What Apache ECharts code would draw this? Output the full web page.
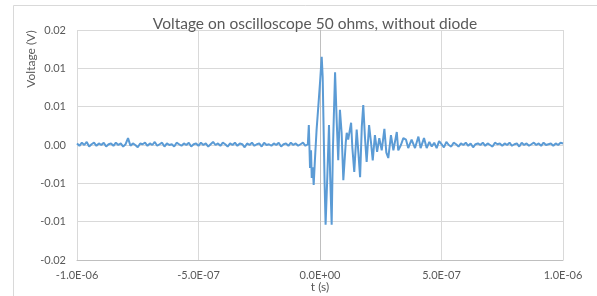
<!DOCTYPE html>
<html>
<head>
<meta charset="utf-8">
<script src="https://cdn.jsdelivr.net/npm/echarts@6/dist/echarts.min.js"></script>
<style>
  html, body { margin: 0; padding: 0; background: #fff; }
  #chart { width: 597px; height: 296px; }
</style>
</head>
<body>
<div id="chart"></div>
<script>
  // time in ns, voltage in mV (axis labels are written like the original sheet)
  const preStartNs = -1000;
  const postStartNs = 460;
  const stepNs = 10;

  // flat noise before the pulse
  const preMv = [
    0.2, -0.1, 0.3, 0.0, 0.4, -0.2, 0.1, 0.3, -0.1, 0.2,
    0.0, 0.3, -0.2, 0.1, 0.2, -0.1, 0.3, 0.0, 0.2, -0.2,
    0.1, 0.9, -0.1, 0.2, 0.0, -0.3, 0.2, 0.1, 0.3, -0.1,
    0.2, 0.0, 0.4, -0.1, 0.1, 0.3, -0.2, 0.2, 0.0, 0.1,
    -0.2, 0.3, 0.1, -0.1, 0.2, 0.0, 0.3, -0.2, 0.1, 0.2,
    -0.1, 0.3, 0.0, 0.2, -0.2, 0.1, 0.4, 0.0, 0.2, -0.1,
    0.3, 0.1, -0.2, 0.2, 0.0, 0.3, -0.1, 0.2, 0.1, -0.3,
    0.2, 0.0, 0.3, -0.1, 0.1, 0.2, -0.2, 0.3, 0.0, 0.1,
    -0.1, 0.2, 0.0, 0.3, -0.2, 0.1, 0.2, -0.1, 0.3, 0.0,
    0.2, -0.1, 0.1, 0.3, -0.1
  ];

  // the ringing burst
  const burstNs = [
    -50, -46, -41, -37, -34, -30, -26, -21, -14, -7,
    0, 7, 11, 14, 19, 23, 30, 37, 42, 48,
    53, 62, 69, 75, 82, 89, 96, 106, 110, 116,
    128, 133, 141, 151, 158, 165, 172, 178, 185, 192,
    202, 210, 217, 226, 235, 244, 254, 265, 273, 281,
    292, 302, 316, 322, 333, 343, 354, 363, 377, 391,
    405, 414, 428, 439, 450
  ];
  const burstMv = [
    0.1, 2.6, -3.0, -0.7, -4.3, -2.9, -5.2, -2.0, 2.0, 5.0,
    8.1, 11.5, 8.9, 3.7, -5.0, -10.4, -4.2, 2.6, -4.2, -10.4,
    -0.7, 9.5, 2.9, -2.0, 4.6, 1.6, -4.6, 0.3, 1.6, 0.7,
    2.9, -0.3, -3.5, 2.0, -1.0, -4.2, 2.4, 5.2, 1.0, -2.2,
    2.6, 0.3, -2.0, 1.3, -0.9, 0.9, -0.7, 2.1, -1.0, -1.7,
    1.3, -0.7, 1.7, -0.7, 0.0, 0.9, 0.7, -0.4, 0.7, -0.4,
    1.1, -0.4, 0.9, -0.4, 0.4
  ];

  // tail noise after the pulse
  const postMv = [
    -0.2, 0.3, -0.4, 0.5, 0.1, -0.3, 0.4, 0.0, -0.2, 0.3,
    0.1, -0.2, 0.2, 0.0, 0.3, -0.1, 0.2, -0.3, 0.1, 0.2,
    0.0, 0.3, -0.1, 0.2, 0.0, -0.2, 0.3, 0.1, 0.2, -0.1,
    0.2, 0.0, 0.3, -0.1, 0.1, 0.2, -0.2, 0.3, 0.0, 0.2,
    -0.1, 0.1, 0.3, 0.0, 0.2, -0.1, 0.3, 0.0, 0.1, 0.2,
    -0.1, 0.2, 0.0, 0.3, 0.2
  ];

  const xTickLabels = ['-1.0E-06', '-5.0E-07', '0.0E+00', '5.0E-07', '1.0E-06'];
  // Excel rounds 0.005 / 0.015 to two decimals, bottom -> top
  const yTickLabels = ['-0.02', '-0.01', '-0.01', '0.00', '0.01', '0.01', '0.02'];

  const points = [];
  preMv.forEach((v, i) => points.push([preStartNs + i * stepNs, v]));
  burstNs.forEach((t, i) => points.push([t, burstMv[i]]));
  postMv.forEach((v, i) => points.push([postStartNs + i * stepNs, v]));

  const chart = echarts.init(document.getElementById('chart'), null, {renderer: 'canvas'});
  const txt = '#595959';
  const gridColor = '#d9d9d9';
  const font = 'Lato, "Open Sans", sans-serif';

  chart.setOption({
    animation: false,
    backgroundColor: '#fff',
    title: {
      text: 'Voltage on oscilloscope 50 ohms, without diode',
      left: 310,
      top: 11,
      textAlign: 'center',
      textStyle: {color: txt, fontSize: 15.5, fontWeight: 'normal', fontFamily: font},
    },
    graphic: [
      {
        type: 'rect',
        shape: {x: 13.5, y: 5.5, width: 620, height: 320},
        style: {fill: 'none', stroke: gridColor, lineWidth: 1},
        silent: true,
      },
      {
        type: 'text',
        x: 31,
        y: 59,
        rotation: Math.PI / 2,
        style: {
          text: 'Voltage (V)',
          fill: txt,
          font: '12px ' + font,
          align: 'center',
          verticalAlign: 'middle',
        },
      },
      {
        type: 'text',
        x: 320,
        y: 287,
        style: {
          text: 't (s)',
          fill: txt,
          font: '12px ' + font,
          align: 'center',
          verticalAlign: 'middle',
        },
      },
    ],
    grid: {
      left: 77,
      right: 34,
      top: 30,
      bottom: 36,
      containLabel: false,
    },
    xAxis: {
      type: 'value',
      min: -1000,
      max: 1000,
      interval: 500,
      axisLine: {show: true, onZero: false, lineStyle: {color: '#bfbfbf'}},
      axisTick: {show: false},
      splitLine: {show: true, lineStyle: {color: gridColor}},
      axisLabel: {
        color: txt,
        fontSize: 11,
        fontFamily: font,
        margin: 10,
        formatter: v => xTickLabels[Math.round((v + 1000) / 500)],
      },
    },
    yAxis: {
      type: 'value',
      min: -15,
      max: 15,
      interval: 5,
      axisLine: {show: true, lineStyle: {color: '#bfbfbf'}},
      axisTick: {show: false},
      splitLine: {show: true, lineStyle: {color: gridColor}},
      axisLabel: {
        color: txt,
        fontSize: 11,
        fontFamily: font,
        margin: 11,
        formatter: v => yTickLabels[Math.round((v + 15) / 5)],
      },
    },
    series: [
      {
        type: 'line',
        data: points,
        showSymbol: false,
        symbol: 'none',
        lineStyle: {color: '#5b9bd5', width: 2},
        z: 3,
      },
    ],
  });
</script>
</body>
</html>
